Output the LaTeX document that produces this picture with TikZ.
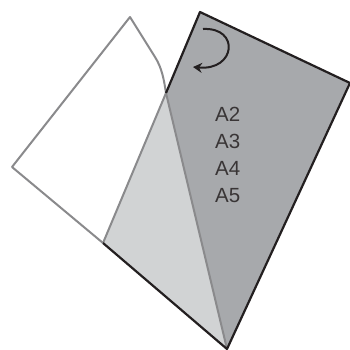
\documentclass[tikz,border=0pt]{standalone}
\usepackage{fontspec}
\setmainfont{Liberation Sans}
\usepackage{xcolor}
\usetikzlibrary{arrows.meta,positioning}
\definecolor{sheetdark}{HTML}{A7A9AC}
\definecolor{sheetlight}{HTML}{D1D3D4}
\definecolor{flapline}{HTML}{8A8A8C}
\definecolor{ink}{HTML}{231F20}

\begin{document}
\begin{tikzpicture}[
    x=1bp, y=-1bp,
    >={Stealth[length=9bp, width=10bp, inset=3bp]},
    edge/.style={draw=ink, line width=2.2bp, line join=round},
    flap/.style={draw=flapline, line width=2bp, line join=round},
    sizes/.style={font=\fontsize{20.5bp}{27bp}\selectfont, text=ink!90, align=left, inner sep=0pt}
]
\useasboundingbox (0,0) rectangle (350,350);
% sheet corners
\coordinate (top) at (200,12);
\coordinate (right) at (350,83);
\coordinate (bottom) at (227,349);
\coordinate (lowleft) at (103,243);
\coordinate (fold) at (166,93);
% folded flap
\coordinate (left) at (12,167);
\coordinate (peak) at (130,17);
\coordinate (bend) at (155,57);

\fill[sheetdark] (top) -- (right) -- (bottom) -- (fold) -- cycle;
\fill[sheetlight] (lowleft) -- (fold) -- (bottom) -- cycle;
\draw[flap] (lowleft) -- (left) -- (peak) -- (bend) .. controls (162,68) and (164,80) .. (fold) -- (bottom);
\draw[flap] (lowleft) -- (fold);
\draw[edge] (fold) -- (top) -- (right) -- (bottom) -- (lowleft);

\coordinate (turn start) at (203,29);
\coordinate (turn end) at (193,67);
\draw[->, draw=ink, line width=2bp] (turn start) .. controls (240,27) and (236,71) .. (turn end);

\node[sizes, anchor=north west] (formats) at (215,107) {A2\\A3\\A4\\A5};
\end{tikzpicture}
\end{document}
